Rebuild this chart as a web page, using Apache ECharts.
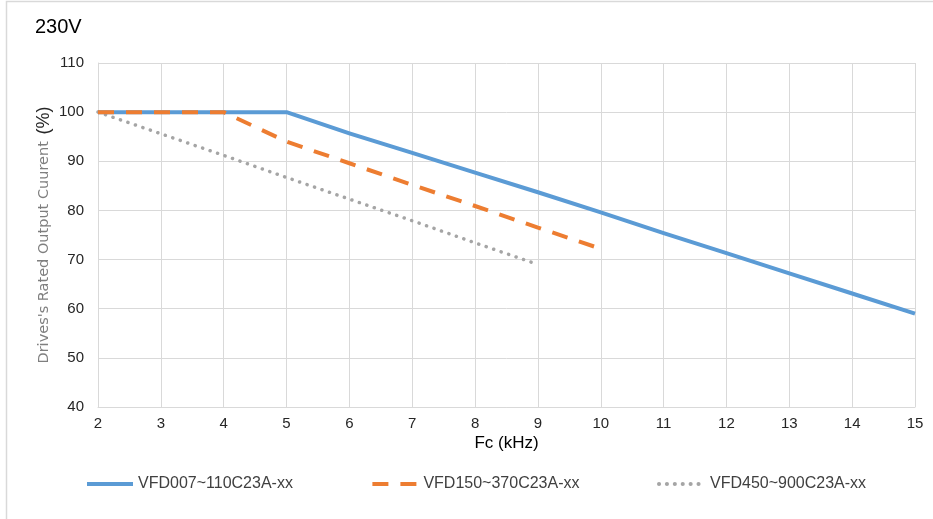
<!DOCTYPE html>
<html>
<head>
<meta charset="utf-8">
<script src="https://cdn.jsdelivr.net/npm/echarts@6/dist/echarts.min.js"></script>
<style>html,body{margin:0;padding:0;background:#fff}#c{width:933px;height:519px}</style>
</head>
<body>
<div id="c"></div>
<script>
const seriesNames = ['VFD007~110C23A-xx', 'VFD150~370C23A-xx', 'VFD450~900C23A-xx'];
const freqA = [2, 3, 4, 5, 6, 7, 8, 9, 10, 11, 12, 13, 14, 15];
const valuesA = [100, 100, 100, 100, 95.7, 91.7, 87.7, 83.7, 79.6, 75.4, 71.3, 67.2, 63.1, 59];
const freqB = [2, 3, 4, 5, 6, 7, 8, 9, 10];
const valuesB = [100, 100, 100, 94, 89.6, 85.2, 80.9, 76.5, 72.2];
const freqC = [2, 3, 4, 5, 6, 7, 8, 9];
const valuesC = [100, 95.6, 91.2, 86.7, 82.3, 77.9, 73.4, 69];
const xTicks = { min: 2, max: 15, interval: 1 };
const yTicks = { min: 40, max: 110, interval: 10 };

const pairs = (xs, ys) => xs.map((x, i) => [x, ys[i]]);
const chart = echarts.init(document.getElementById('c'), null, { renderer: 'canvas' });
const font = 'Liberation Sans, Arial, sans-serif';
chart.setOption({
  animation: false,
  backgroundColor: '#fff',
  graphic: [
    { type: 'rect', shape: { x: 6.5, y: 1.5, width: 1000, height: 1000 }, style: { fill: 'none', stroke: '#d9d9d9', lineWidth: 1.5 }, silent: true },
    { type: 'text', left: 35, top: 17, style: { text: '230V', fontSize: 20, fontFamily: font, fill: '#000' } }
  ],
  grid: { left: 98, right: 18, top: 63, bottom: 112, containLabel: false },
  legend: {
    left: 85, top: 476, padding: 0, itemWidth: 46, itemHeight: 14, itemGap: 77.5,
    itemStyle: { opacity: 0 },
    lineStyle: { width: 4 },
    textStyle: { fontSize: 16, fontFamily: font, color: '#404040' },
    data: seriesNames
  },
  xAxis: {
    type: 'value', min: xTicks.min, max: xTicks.max, interval: xTicks.interval,
    name: 'Fc (kHz)', nameLocation: 'middle', nameGap: 28, nameMoveOverlap: false,
    nameTextStyle: { fontSize: 17, fontFamily: font, color: '#000' },
    axisLine: { show: true, lineStyle: { color: '#d9d9d9', width: 1 } },
    axisTick: { show: false },
    axisLabel: { fontSize: 15, fontFamily: font, color: '#262626', margin: 9 },
    splitLine: { show: true, lineStyle: { color: '#d9d9d9', width: 1 } }
  },
  yAxis: {
    type: 'value', min: yTicks.min, max: yTicks.max, interval: yTicks.interval,
    name: '{a|Drives\'s Rated Output Cuurent}  {b|(%)}', nameLocation: 'middle', nameGap: 45, nameMoveOverlap: false,
    nameTextStyle: {
      rich: {
        a: { fontSize: 14.5, fontFamily: 'DejaVu Sans, sans-serif', color: '#7f7f7f' },
        b: { fontSize: 18, fontFamily: font, color: '#262626' }
      }
    },
    axisLine: { show: true, lineStyle: { color: '#d9d9d9', width: 1 } },
    axisTick: { show: false },
    axisLabel: { fontSize: 15, fontFamily: font, color: '#262626', margin: 14 },
    splitLine: { show: true, lineStyle: { color: '#d9d9d9', width: 1 } }
  },
  series: [
    {
      name: seriesNames[0], type: 'line', data: pairs(freqA, valuesA), symbol: 'none', z: 3,
      lineStyle: { color: '#5B9BD5', width: 4, cap: 'butt', join: 'round' }, itemStyle: { color: '#5B9BD5' }
    },
    {
      name: seriesNames[1], type: 'line', data: pairs(freqB, valuesB), symbol: 'none', z: 4,
      lineStyle: { color: '#ED7D31', width: 4, type: [16, 12], cap: 'butt' }, itemStyle: { color: '#ED7D31' }
    },
    {
      name: seriesNames[2], type: 'line', data: pairs(freqC, valuesC), symbol: 'none', z: 2,
      lineStyle: { color: '#A5A5A5', width: 3.5, type: [0.1, 7.8], cap: 'round' }, itemStyle: { color: '#A5A5A5' }
    }
  ]
});
</script>
</body>
</html>
